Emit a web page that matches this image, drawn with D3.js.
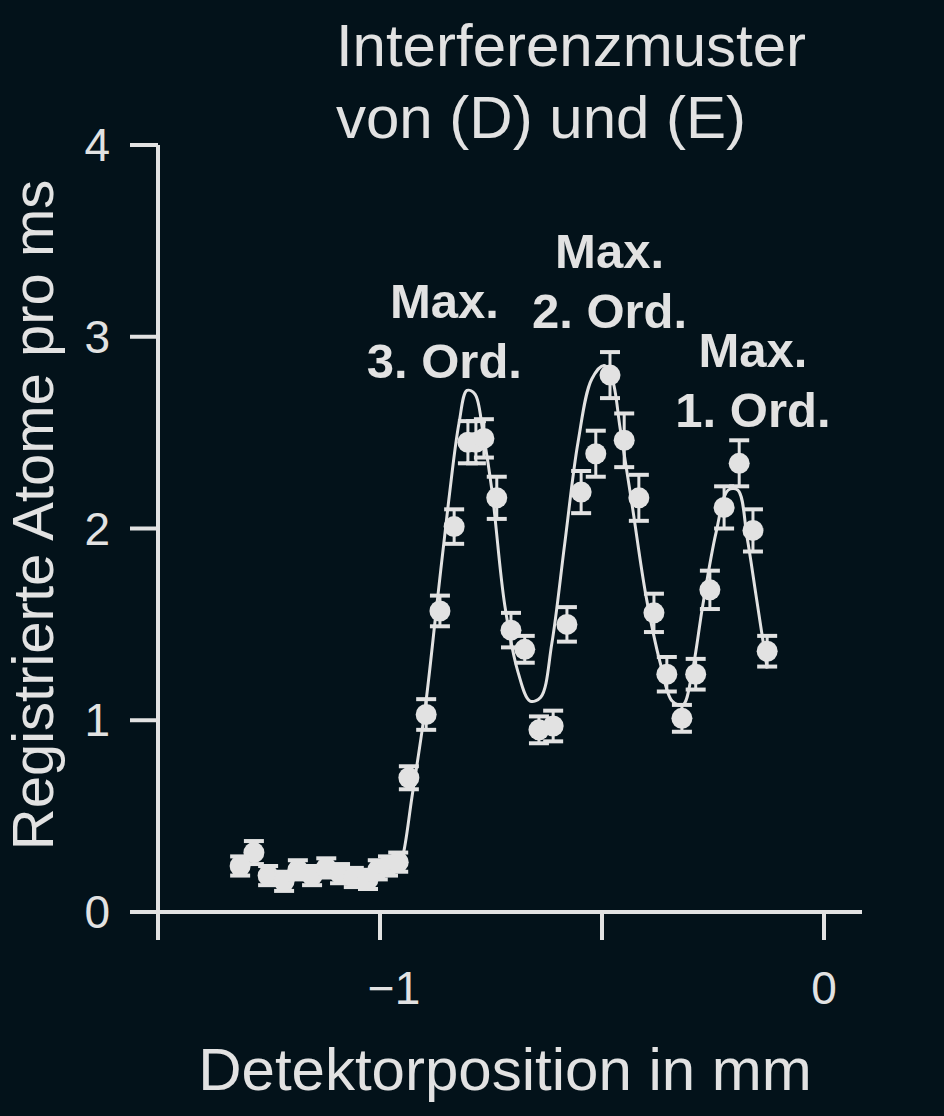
<!DOCTYPE html>
<html><head><meta charset="UTF-8">
<script src="https://d3js.org/d3.v7.min.js"></script>
<style>body{margin:0;background:#03121a;}</style>
</head><body><svg id="c" width="944" height="1116"></svg>
<script>
// measured points (mm, atoms per ms)
const pointX = [-1.315,-1.284,-1.252,-1.216,-1.185,-1.153,-1.121,-1.090,-1.059,-1.027,-1.005,-0.982,-0.959,
  -0.935,-0.896,-0.865,-0.833,-0.802,-0.784,-0.766,-0.737,-0.705,-0.674,-0.642,-0.610,-0.579,-0.547,-0.514,-0.482,-0.450,-0.417,-0.383,-0.354,-0.320,-0.289,-0.257,-0.225,-0.191,-0.160,-0.128];
const pointY = [0.24,0.31,0.19,0.16,0.22,0.19,0.23,0.20,0.18,0.17,0.22,0.24,0.26,
  0.7,1.03,1.57,2.01,2.45,2.45,2.47,2.16,1.47,1.37,0.95,0.97,1.50,2.19,2.39,2.80,2.46,2.16,1.56,1.24,1.01,1.24,1.68,2.11,2.34,1.99,1.36];
const errY = [0.05,0.06,0.05,0.05,0.05,0.05,0.05,0.05,0.05,0.05,0.05,0.05,0.05,
  0.06,0.08,0.08,0.09,0.11,0.11,0.1,0.11,0.09,0.07,0.07,0.08,0.09,0.11,0.12,0.12,0.14,0.12,0.1,0.09,0.07,0.08,0.1,0.11,0.12,0.11,0.08];
// fitted curve
const curveX = [-0.962,-0.950,-0.928,-0.899,-0.872,-0.845,-0.822,-0.804,-0.786,-0.768,-0.748,-0.719,-0.689,-0.662,-0.638,-0.613,-0.584,-0.554,-0.523,-0.495,-0.477,-0.459,-0.432,-0.401,-0.369,-0.342,-0.318,-0.297,-0.273,-0.243,-0.216,-0.194,-0.173,-0.153,-0.128];
const curveY = [0.22,0.28,0.6,1.05,1.6,2.15,2.55,2.72,2.7,2.5,2.2,1.6,1.25,1.1,1.12,1.4,1.92,2.45,2.78,2.85,2.78,2.52,2.12,1.65,1.3,1.1,1.08,1.25,1.6,1.98,2.2,2.2,1.95,1.65,1.27];
const yTicks = [0,1,2,3,4];
const xTicks = [-1.5,-1,-0.5,0];
const xTickLabels = {"-1":"\u22121","0":"0"};
const annotations = [
  {x:-0.855, y:3.1, lines:["Max.","3. Ord."]},
  {x:-0.483, y:3.36, lines:["Max.","2. Ord."]},
  {x:-0.16, y:2.84, lines:["Max.","1. Ord."]}
];

const fg = "#e2e2e2";
const svg = d3.select("#c");
svg.append("rect").attr("width",944).attr("height",1116).attr("fill","#03121a");
const x = d3.scaleLinear().domain([-1,0]).range([380,824]);
const y = d3.scaleLinear().domain([0,4]).range([912,145]);
const font = "Liberation Sans, Arial, sans-serif";

// axes
svg.append("line").attr("x1",130).attr("x2",862).attr("y1",y(0)).attr("y2",y(0)).attr("stroke",fg).attr("stroke-width",4);
svg.append("line").attr("x1",158).attr("x2",158).attr("y1",y(0)).attr("y2",y(4)).attr("stroke",fg).attr("stroke-width",4);
yTicks.forEach(t=>{
  svg.append("line").attr("x1",130).attr("x2",158).attr("y1",y(t)).attr("y2",y(t)).attr("stroke",fg).attr("stroke-width",4);
  svg.append("text").attr("x",110).attr("y",y(t)+16).attr("text-anchor","end").attr("fill",fg)
    .attr("font-family",font).attr("font-size",46).text(t);
});
xTicks.forEach(t=>{
  svg.append("line").attr("x1",x(t)).attr("x2",x(t)).attr("y1",y(0)).attr("y2",y(0)+28).attr("stroke",fg).attr("stroke-width",4);
  if (xTickLabels[t]) svg.append("text").attr("x",x(t)+(t===0?0:14)).attr("y",1004).attr("text-anchor","middle").attr("fill",fg)
    .attr("font-family",font).attr("font-size",46).text(xTickLabels[t]);
});

// curve
svg.append("path").datum(curveX.map((v,i)=>[v,curveY[i]]))
  .attr("d",d3.line().x(d=>x(d[0])).y(d=>y(d[1])).curve(d3.curveCatmullRom))
  .attr("fill","none").attr("stroke",fg).attr("stroke-width",3);

// points with error bars
const pts = pointX.map((v,i)=>({x:v,y:pointY[i],e:errY[i]}));
const g = svg.append("g");
pts.forEach(p=>{
  const cx=x(p.x), y1=y(p.y+p.e), y2=y(p.y-p.e);
  g.append("line").attr("x1",cx).attr("x2",cx).attr("y1",y1).attr("y2",y2).attr("stroke",fg).attr("stroke-width",3);
  [y1,y2].forEach(yy=>g.append("line").attr("x1",cx-10).attr("x2",cx+10).attr("y1",yy).attr("y2",yy).attr("stroke",fg).attr("stroke-width",4));
  g.append("circle").attr("cx",cx).attr("cy",y(p.y)).attr("r",10.5).attr("fill",fg);
});

// annotations
annotations.forEach(a=>{
  a.lines.forEach((l,i)=>svg.append("text").attr("x",x(a.x)).attr("y",y(a.y)+i*60).attr("text-anchor","middle")
    .attr("fill",fg).attr("font-family",font).attr("font-weight","bold").attr("font-size",49).text(l));
});

// titles
svg.append("text").attr("x",571).attr("y",66).attr("text-anchor","middle").attr("fill",fg).attr("font-family",font).attr("font-size",60).text("Interferenzmuster");
svg.append("text").attr("x",541).attr("y",138).attr("text-anchor","middle").attr("fill",fg).attr("font-family",font).attr("font-size",60).text("von (D) und (E)");
svg.append("text").attr("x",505).attr("y",1090).attr("text-anchor","middle").attr("fill",fg).attr("font-family",font).attr("font-size",60).text("Detektorposition in mm");
svg.append("text").attr("transform","translate(53,515) rotate(-90)").attr("text-anchor","middle").attr("fill",fg).attr("font-family",font).attr("font-size",58).text("Registrierte Atome pro ms");
</script></body></html>
